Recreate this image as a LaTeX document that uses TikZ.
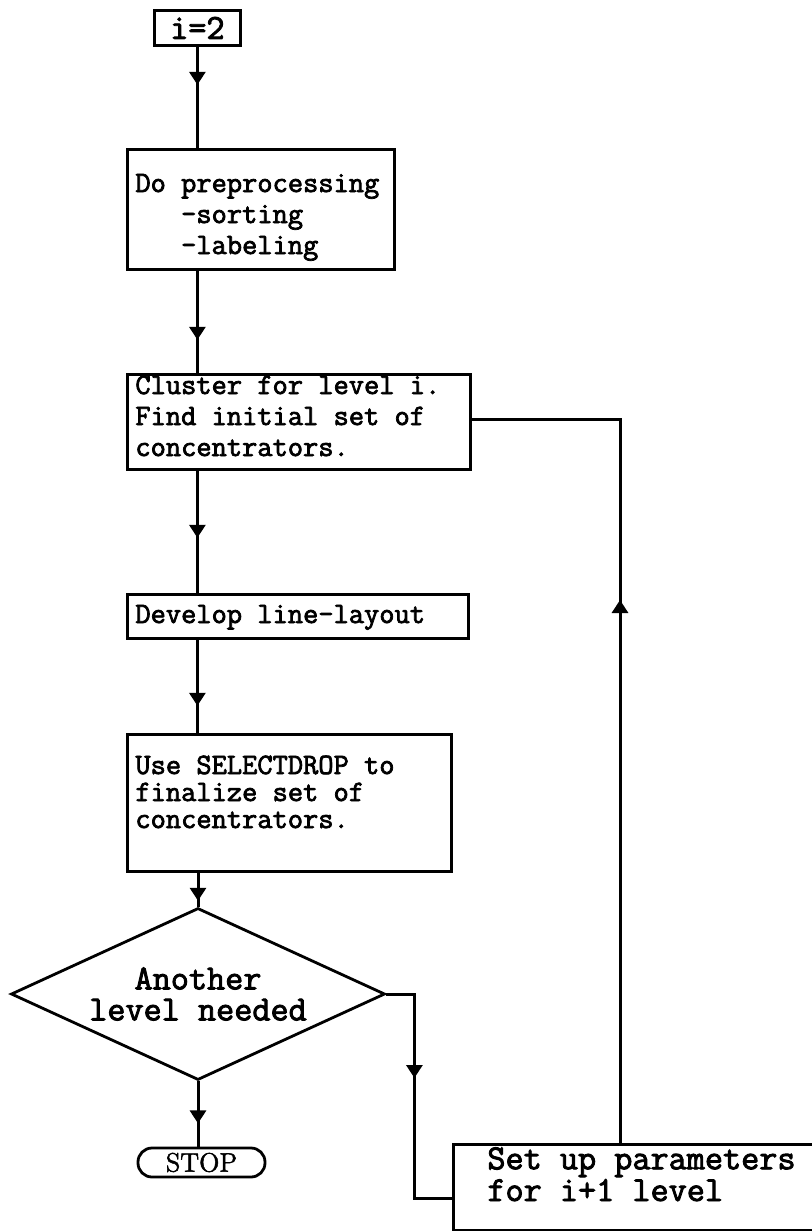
\documentclass[tikz,border=0pt]{standalone}
\usepackage{fontspec}
\newfontfamily\tw{Latin Modern Mono}[FakeBold=2.5]
\newfontfamily\stopfont{Latin Modern Roman}[FakeBold=2]
\usetikzlibrary{arrows.meta,decorations.markings,shapes.geometric}

\begin{document}
\begin{tikzpicture}[x=0.5pt,y=-0.5pt,
  box/.style={draw, line width=1.4pt, inner sep=0pt, anchor=north west},
  small/.style={font=\tw\fontsize{14.8pt}{15.5pt}\selectfont, align=left, inner sep=0pt, anchor=base west},
  smalltight/.style={font=\tw\fontsize{14.8pt}{13.5pt}\selectfont, align=left, inner sep=0pt, anchor=base west},
  large/.style={font=\tw\fontsize{17.6pt}{13.5pt}\selectfont, inner sep=0pt},
  flow/.style={line width=1.5pt},
  tipat/.style={postaction={decorate, decoration={markings,
      mark=at position #1 with {\arrow{Triangle[width=8pt,length=6.5pt]}}}}},
]
\useasboundingbox (0,0) rectangle (811,1231);

% process boxes (text nodes are placed by the baseline of their last line)
\node[box, large, minimum width=43pt, minimum height=17.5pt] (start) at (153,9) {i=2};

\node[box, minimum width=133.5pt, minimum height=60pt] (prep) at (126,148) {};
\node[small] (prep-t) at (135,254) {Do preprocessing\\\hphantom{Dox}-sorting\\\hphantom{Dox}-labeling};

\node[box, minimum width=171.5pt, minimum height=47.5pt] (clus) at (126,373) {};
\node[small] (clus-t) at (135,456) {Cluster for level i.\\Find initial set of\\concentrators.};

\node[box, minimum width=170.5pt, minimum height=22pt] (dev) at (126,593) {};
\node[small] (dev-t) at (135,623) {Develop line-layout};

\node[box, minimum width=162pt, minimum height=68.5pt] (sel) at (126,733) {};
\node[smalltight] (sel-t) at (135,828) {Use SELECTDROP to\\finalize set of\\concentrators.};

% decision
\node[draw, diamond, line width=1.4pt, minimum width=187pt, minimum height=86pt,
      aspect=2.17, inner sep=0pt, align=center,
      font=\tw\fontsize{17.6pt}{15.5pt}\selectfont] (dec) at (198,994) {Another\\level needed};

% terminal
\node[draw, line width=1.4pt, rounded corners=7pt, minimum width=63.5pt, minimum height=14.5pt,
      inner sep=0pt, font=\stopfont\fontsize{13.3pt}{13.3pt}\selectfont] (stop) at (201.5,1162.5) {STOP};

% next-level box
\node[box, minimum width=200pt, minimum height=43pt] (setup) at (452,1143) {};
\node[large, align=left, anchor=base west] (setup-t) at (487,1201) {Set up parameters\\for i+1 level};

% connectors
\coordinate (upx) at (620,0);
\coordinate (cin) at ([yshift=1.25pt]clus.east);
\coordinate (dout) at ([yshift=-5.5pt]setup.west);
\draw[flow, tipat=19pt] (start.south) -- (start.south |- prep.north);
\draw[flow, tipat=34.5pt] (start.south |- prep.south) -- (start.south |- clus.north);
\draw[flow, tipat=33.5pt] (start.south |- clus.south) -- (start.south |- dev.north);
\draw[flow, tipat=33pt] (start.south |- dev.south) -- (start.south |- sel.north);
\draw[flow, tipat=14pt] (dec.north |- sel.south) -- (dec.north);
\draw[flow, tipat=21pt] (dec.south) -- (dec.south |- stop.north);
\draw[flow, tipat=56pt] (dec.east) -- ++(28,0) |- (dout);
\draw[flow, tipat=271.5pt] (upx |- setup.north) -- (upx |- cin) -- (cin);
\end{tikzpicture}
\end{document}
